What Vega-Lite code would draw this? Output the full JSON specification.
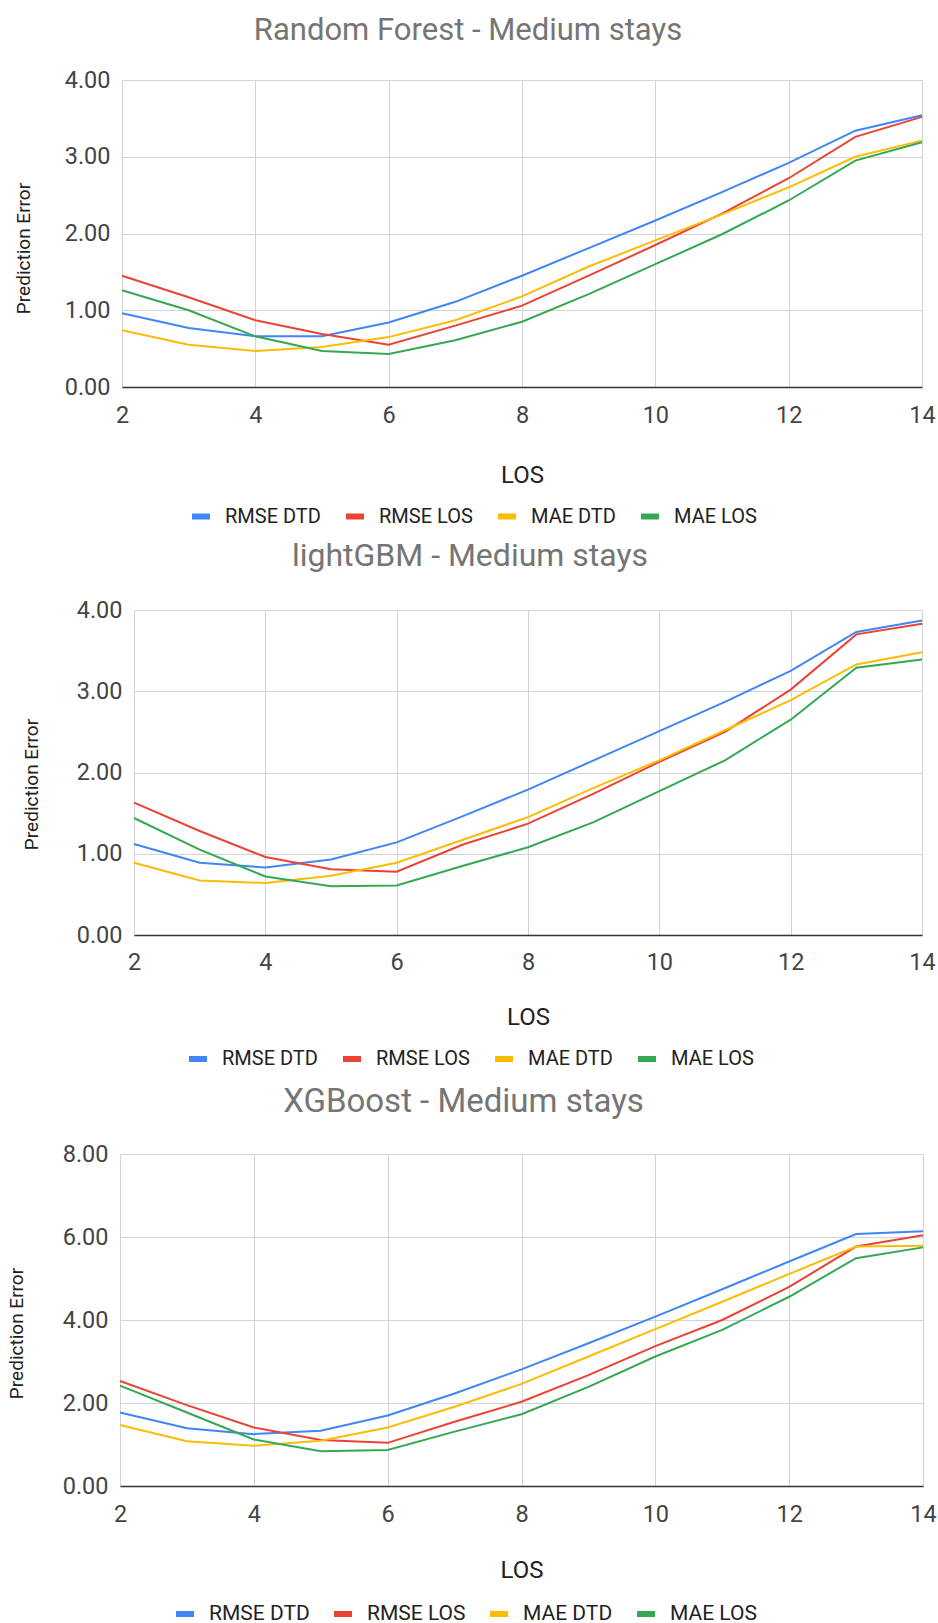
{
  "$schema": "https://vega.github.io/schema/vega-lite/v6.json",
  "background": "white",
  "padding": {"left": 7, "top": 15, "right": 0, "bottom": 0},
  "columns": 1,
  "align": "none",
  "bounds": "full",
  "spacing": 11,
  "resolve": {"scale": {"color": "independent"}, "legend": {"color": "independent"}},
  "config": {
    "view": {"stroke": null},
    "font": "Roboto",
    "title": {"font": "Roboto", "fontSize": 31, "fontWeight": "normal", "color": "#757575", "anchor": "middle"},
    "axis": {
      "labelFont": "Roboto", "labelFontSize": 23.5, "labelColor": "#444444",
      "titleFont": "Roboto", "titleFontWeight": "normal", "titleColor": "#222222",
      "ticks": false, "gridColor": "#d3d3d3", "gridWidth": 1
    },
    "legend": {
      "labelFont": "Roboto", "labelFontSize": 20, "labelColor": "#222222",
      "symbolType": "stroke", "symbolStrokeWidth": 6, "symbolSize": 324,
      "labelOffset": 12, "columnPadding": 13, "padding": 0, "direction": "horizontal", "orient": "none"
    }
  },
  "data": {"values": [
    {"model": "Random Forest", "metric": "RMSE DTD", "los": 2, "value": 0.96},
    {"model": "Random Forest", "metric": "RMSE DTD", "los": 3, "value": 0.77},
    {"model": "Random Forest", "metric": "RMSE DTD", "los": 4, "value": 0.66},
    {"model": "Random Forest", "metric": "RMSE DTD", "los": 5, "value": 0.66},
    {"model": "Random Forest", "metric": "RMSE DTD", "los": 6, "value": 0.84},
    {"model": "Random Forest", "metric": "RMSE DTD", "los": 7, "value": 1.11},
    {"model": "Random Forest", "metric": "RMSE DTD", "los": 8, "value": 1.45},
    {"model": "Random Forest", "metric": "RMSE DTD", "los": 9, "value": 1.81},
    {"model": "Random Forest", "metric": "RMSE DTD", "los": 10, "value": 2.17},
    {"model": "Random Forest", "metric": "RMSE DTD", "los": 11, "value": 2.54},
    {"model": "Random Forest", "metric": "RMSE DTD", "los": 12, "value": 2.92},
    {"model": "Random Forest", "metric": "RMSE DTD", "los": 13, "value": 3.34},
    {"model": "Random Forest", "metric": "RMSE DTD", "los": 14, "value": 3.54},
    {"model": "Random Forest", "metric": "RMSE LOS", "los": 2, "value": 1.45},
    {"model": "Random Forest", "metric": "RMSE LOS", "los": 3, "value": 1.17},
    {"model": "Random Forest", "metric": "RMSE LOS", "los": 4, "value": 0.87},
    {"model": "Random Forest", "metric": "RMSE LOS", "los": 5, "value": 0.69},
    {"model": "Random Forest", "metric": "RMSE LOS", "los": 6, "value": 0.55},
    {"model": "Random Forest", "metric": "RMSE LOS", "los": 7, "value": 0.80},
    {"model": "Random Forest", "metric": "RMSE LOS", "los": 8, "value": 1.06},
    {"model": "Random Forest", "metric": "RMSE LOS", "los": 9, "value": 1.45},
    {"model": "Random Forest", "metric": "RMSE LOS", "los": 10, "value": 1.85},
    {"model": "Random Forest", "metric": "RMSE LOS", "los": 11, "value": 2.26},
    {"model": "Random Forest", "metric": "RMSE LOS", "los": 12, "value": 2.72},
    {"model": "Random Forest", "metric": "RMSE LOS", "los": 13, "value": 3.26},
    {"model": "Random Forest", "metric": "RMSE LOS", "los": 14, "value": 3.52},
    {"model": "Random Forest", "metric": "MAE DTD", "los": 2, "value": 0.74},
    {"model": "Random Forest", "metric": "MAE DTD", "los": 3, "value": 0.55},
    {"model": "Random Forest", "metric": "MAE DTD", "los": 4, "value": 0.47},
    {"model": "Random Forest", "metric": "MAE DTD", "los": 5, "value": 0.52},
    {"model": "Random Forest", "metric": "MAE DTD", "los": 6, "value": 0.65},
    {"model": "Random Forest", "metric": "MAE DTD", "los": 7, "value": 0.87},
    {"model": "Random Forest", "metric": "MAE DTD", "los": 8, "value": 1.18},
    {"model": "Random Forest", "metric": "MAE DTD", "los": 9, "value": 1.57},
    {"model": "Random Forest", "metric": "MAE DTD", "los": 10, "value": 1.91},
    {"model": "Random Forest", "metric": "MAE DTD", "los": 11, "value": 2.25},
    {"model": "Random Forest", "metric": "MAE DTD", "los": 12, "value": 2.60},
    {"model": "Random Forest", "metric": "MAE DTD", "los": 13, "value": 3.00},
    {"model": "Random Forest", "metric": "MAE DTD", "los": 14, "value": 3.21},
    {"model": "Random Forest", "metric": "MAE LOS", "los": 2, "value": 1.26},
    {"model": "Random Forest", "metric": "MAE LOS", "los": 3, "value": 1.00},
    {"model": "Random Forest", "metric": "MAE LOS", "los": 4, "value": 0.66},
    {"model": "Random Forest", "metric": "MAE LOS", "los": 5, "value": 0.47},
    {"model": "Random Forest", "metric": "MAE LOS", "los": 6, "value": 0.43},
    {"model": "Random Forest", "metric": "MAE LOS", "los": 7, "value": 0.61},
    {"model": "Random Forest", "metric": "MAE LOS", "los": 8, "value": 0.85},
    {"model": "Random Forest", "metric": "MAE LOS", "los": 9, "value": 1.21},
    {"model": "Random Forest", "metric": "MAE LOS", "los": 10, "value": 1.60},
    {"model": "Random Forest", "metric": "MAE LOS", "los": 11, "value": 1.99},
    {"model": "Random Forest", "metric": "MAE LOS", "los": 12, "value": 2.43},
    {"model": "Random Forest", "metric": "MAE LOS", "los": 13, "value": 2.95},
    {"model": "Random Forest", "metric": "MAE LOS", "los": 14, "value": 3.19},

    {"model": "lightGBM", "metric": "RMSE DTD", "los": 2, "value": 1.12},
    {"model": "lightGBM", "metric": "RMSE DTD", "los": 3, "value": 0.89},
    {"model": "lightGBM", "metric": "RMSE DTD", "los": 4, "value": 0.83},
    {"model": "lightGBM", "metric": "RMSE DTD", "los": 5, "value": 0.93},
    {"model": "lightGBM", "metric": "RMSE DTD", "los": 6, "value": 1.14},
    {"model": "lightGBM", "metric": "RMSE DTD", "los": 7, "value": 1.46},
    {"model": "lightGBM", "metric": "RMSE DTD", "los": 8, "value": 1.79},
    {"model": "lightGBM", "metric": "RMSE DTD", "los": 9, "value": 2.15},
    {"model": "lightGBM", "metric": "RMSE DTD", "los": 10, "value": 2.51},
    {"model": "lightGBM", "metric": "RMSE DTD", "los": 11, "value": 2.87},
    {"model": "lightGBM", "metric": "RMSE DTD", "los": 12, "value": 3.25},
    {"model": "lightGBM", "metric": "RMSE DTD", "los": 13, "value": 3.73},
    {"model": "lightGBM", "metric": "RMSE DTD", "los": 14, "value": 3.87},
    {"model": "lightGBM", "metric": "RMSE LOS", "los": 2, "value": 1.63},
    {"model": "lightGBM", "metric": "RMSE LOS", "los": 3, "value": 1.28},
    {"model": "lightGBM", "metric": "RMSE LOS", "los": 4, "value": 0.96},
    {"model": "lightGBM", "metric": "RMSE LOS", "los": 5, "value": 0.81},
    {"model": "lightGBM", "metric": "RMSE LOS", "los": 6, "value": 0.78},
    {"model": "lightGBM", "metric": "RMSE LOS", "los": 7, "value": 1.11},
    {"model": "lightGBM", "metric": "RMSE LOS", "los": 8, "value": 1.37},
    {"model": "lightGBM", "metric": "RMSE LOS", "los": 9, "value": 1.74},
    {"model": "lightGBM", "metric": "RMSE LOS", "los": 10, "value": 2.13},
    {"model": "lightGBM", "metric": "RMSE LOS", "los": 11, "value": 2.50},
    {"model": "lightGBM", "metric": "RMSE LOS", "los": 12, "value": 3.02},
    {"model": "lightGBM", "metric": "RMSE LOS", "los": 13, "value": 3.70},
    {"model": "lightGBM", "metric": "RMSE LOS", "los": 14, "value": 3.83},
    {"model": "lightGBM", "metric": "MAE DTD", "los": 2, "value": 0.89},
    {"model": "lightGBM", "metric": "MAE DTD", "los": 3, "value": 0.67},
    {"model": "lightGBM", "metric": "MAE DTD", "los": 4, "value": 0.64},
    {"model": "lightGBM", "metric": "MAE DTD", "los": 5, "value": 0.73},
    {"model": "lightGBM", "metric": "MAE DTD", "los": 6, "value": 0.89},
    {"model": "lightGBM", "metric": "MAE DTD", "los": 7, "value": 1.17},
    {"model": "lightGBM", "metric": "MAE DTD", "los": 8, "value": 1.45},
    {"model": "lightGBM", "metric": "MAE DTD", "los": 9, "value": 1.81},
    {"model": "lightGBM", "metric": "MAE DTD", "los": 10, "value": 2.15},
    {"model": "lightGBM", "metric": "MAE DTD", "los": 11, "value": 2.52},
    {"model": "lightGBM", "metric": "MAE DTD", "los": 12, "value": 2.89},
    {"model": "lightGBM", "metric": "MAE DTD", "los": 13, "value": 3.33},
    {"model": "lightGBM", "metric": "MAE DTD", "los": 14, "value": 3.48},
    {"model": "lightGBM", "metric": "MAE LOS", "los": 2, "value": 1.44},
    {"model": "lightGBM", "metric": "MAE LOS", "los": 3, "value": 1.05},
    {"model": "lightGBM", "metric": "MAE LOS", "los": 4, "value": 0.72},
    {"model": "lightGBM", "metric": "MAE LOS", "los": 5, "value": 0.60},
    {"model": "lightGBM", "metric": "MAE LOS", "los": 6, "value": 0.61},
    {"model": "lightGBM", "metric": "MAE LOS", "los": 7, "value": 0.85},
    {"model": "lightGBM", "metric": "MAE LOS", "los": 8, "value": 1.08},
    {"model": "lightGBM", "metric": "MAE LOS", "los": 9, "value": 1.39},
    {"model": "lightGBM", "metric": "MAE LOS", "los": 10, "value": 1.77},
    {"model": "lightGBM", "metric": "MAE LOS", "los": 11, "value": 2.15},
    {"model": "lightGBM", "metric": "MAE LOS", "los": 12, "value": 2.65},
    {"model": "lightGBM", "metric": "MAE LOS", "los": 13, "value": 3.29},
    {"model": "lightGBM", "metric": "MAE LOS", "los": 14, "value": 3.39},

    {"model": "XGBoost", "metric": "RMSE DTD", "los": 2, "value": 1.77},
    {"model": "XGBoost", "metric": "RMSE DTD", "los": 3, "value": 1.39},
    {"model": "XGBoost", "metric": "RMSE DTD", "los": 4, "value": 1.25},
    {"model": "XGBoost", "metric": "RMSE DTD", "los": 5, "value": 1.33},
    {"model": "XGBoost", "metric": "RMSE DTD", "los": 6, "value": 1.70},
    {"model": "XGBoost", "metric": "RMSE DTD", "los": 7, "value": 2.23},
    {"model": "XGBoost", "metric": "RMSE DTD", "los": 8, "value": 2.81},
    {"model": "XGBoost", "metric": "RMSE DTD", "los": 9, "value": 3.44},
    {"model": "XGBoost", "metric": "RMSE DTD", "los": 10, "value": 4.08},
    {"model": "XGBoost", "metric": "RMSE DTD", "los": 11, "value": 4.74},
    {"model": "XGBoost", "metric": "RMSE DTD", "los": 12, "value": 5.41},
    {"model": "XGBoost", "metric": "RMSE DTD", "los": 13, "value": 6.07},
    {"model": "XGBoost", "metric": "RMSE DTD", "los": 14, "value": 6.14},
    {"model": "XGBoost", "metric": "RMSE LOS", "los": 2, "value": 2.53},
    {"model": "XGBoost", "metric": "RMSE LOS", "los": 3, "value": 1.95},
    {"model": "XGBoost", "metric": "RMSE LOS", "los": 4, "value": 1.41},
    {"model": "XGBoost", "metric": "RMSE LOS", "los": 5, "value": 1.11},
    {"model": "XGBoost", "metric": "RMSE LOS", "los": 6, "value": 1.04},
    {"model": "XGBoost", "metric": "RMSE LOS", "los": 7, "value": 1.55},
    {"model": "XGBoost", "metric": "RMSE LOS", "los": 8, "value": 2.03},
    {"model": "XGBoost", "metric": "RMSE LOS", "los": 9, "value": 2.67},
    {"model": "XGBoost", "metric": "RMSE LOS", "los": 10, "value": 3.37},
    {"model": "XGBoost", "metric": "RMSE LOS", "los": 11, "value": 4.00},
    {"model": "XGBoost", "metric": "RMSE LOS", "los": 12, "value": 4.80},
    {"model": "XGBoost", "metric": "RMSE LOS", "los": 13, "value": 5.77},
    {"model": "XGBoost", "metric": "RMSE LOS", "los": 14, "value": 6.04},
    {"model": "XGBoost", "metric": "MAE DTD", "los": 2, "value": 1.47},
    {"model": "XGBoost", "metric": "MAE DTD", "los": 3, "value": 1.08},
    {"model": "XGBoost", "metric": "MAE DTD", "los": 4, "value": 0.97},
    {"model": "XGBoost", "metric": "MAE DTD", "los": 5, "value": 1.09},
    {"model": "XGBoost", "metric": "MAE DTD", "los": 6, "value": 1.41},
    {"model": "XGBoost", "metric": "MAE DTD", "los": 7, "value": 1.91},
    {"model": "XGBoost", "metric": "MAE DTD", "los": 8, "value": 2.46},
    {"model": "XGBoost", "metric": "MAE DTD", "los": 9, "value": 3.12},
    {"model": "XGBoost", "metric": "MAE DTD", "los": 10, "value": 3.78},
    {"model": "XGBoost", "metric": "MAE DTD", "los": 11, "value": 4.44},
    {"model": "XGBoost", "metric": "MAE DTD", "los": 12, "value": 5.11},
    {"model": "XGBoost", "metric": "MAE DTD", "los": 13, "value": 5.77},
    {"model": "XGBoost", "metric": "MAE DTD", "los": 14, "value": 5.79},
    {"model": "XGBoost", "metric": "MAE LOS", "los": 2, "value": 2.42},
    {"model": "XGBoost", "metric": "MAE LOS", "los": 3, "value": 1.77},
    {"model": "XGBoost", "metric": "MAE LOS", "los": 4, "value": 1.12},
    {"model": "XGBoost", "metric": "MAE LOS", "los": 5, "value": 0.84},
    {"model": "XGBoost", "metric": "MAE LOS", "los": 6, "value": 0.87},
    {"model": "XGBoost", "metric": "MAE LOS", "los": 7, "value": 1.31},
    {"model": "XGBoost", "metric": "MAE LOS", "los": 8, "value": 1.73},
    {"model": "XGBoost", "metric": "MAE LOS", "los": 9, "value": 2.39},
    {"model": "XGBoost", "metric": "MAE LOS", "los": 10, "value": 3.12},
    {"model": "XGBoost", "metric": "MAE LOS", "los": 11, "value": 3.76},
    {"model": "XGBoost", "metric": "MAE LOS", "los": 12, "value": 4.56},
    {"model": "XGBoost", "metric": "MAE LOS", "los": 13, "value": 5.49},
    {"model": "XGBoost", "metric": "MAE LOS", "los": 14, "value": 5.75}
  ]},
  "concat": [
    {
      "title": {"text": "Random Forest - Medium stays", "offset": 21, "dx": -53},
      "width": 802, "height": 307,
      "transform": [{"filter": "datum.model === 'Random Forest'"}],
      "mark": {"type": "line", "strokeWidth": 2},
      "encoding": {
        "x": {"field": "los", "type": "quantitative", "scale": {"domain": [2, 14], "range": [2, 802], "nice": false, "zero": false},
              "axis": {"title": "LOS", "titleFontSize": 24, "titlePadding": 36.5, "labelPadding": 16, "labelFlush": false,
                       "values": [2, 4, 6, 8, 10, 12, 14], "domainColor": "#333333", "domainWidth": 1.5}},
        "y": {"field": "value", "type": "quantitative", "scale": {"domain": [0, 4], "nice": false},
              "axis": {"title": "Prediction Error", "titleFontSize": 19, "titlePadding": 31, "titleY": 168, "labelPadding": 12, "offset": -2,
                       "values": [0, 1, 2, 3, 4], "format": ".2f", "domain": false}},
        "color": {"field": "metric", "type": "nominal",
                  "scale": {"domain": ["RMSE DTD", "RMSE LOS", "MAE DTD", "MAE LOS"], "range": ["#4285F4", "#EA4335", "#FBBC04", "#34A853"]},
                  "legend": {"title": null, "legendX": 69, "legendY": 424.5}}
      }
    },
    {
      "title": {"text": "lightGBM - Medium stays", "offset": 25, "dx": -51, "fontSize": 32},
      "width": 802, "height": 325,
      "transform": [{"filter": "datum.model === 'lightGBM'"}],
      "mark": {"type": "line", "strokeWidth": 2},
      "encoding": {
        "x": {"field": "los", "type": "quantitative", "scale": {"domain": [2, 14], "range": [14, 802], "nice": false, "zero": false},
              "axis": {"title": "LOS", "titleFontSize": 24, "titlePadding": 32, "labelPadding": 15, "labelFlush": false,
                       "values": [2, 4, 6, 8, 10, 12, 14], "domainColor": "#333333", "domainWidth": 1.5}},
        "y": {"field": "value", "type": "quantitative", "scale": {"domain": [0, 4], "nice": false},
              "axis": {"title": "Prediction Error", "titleFontSize": 19, "titlePadding": 35, "titleY": 174, "labelPadding": 12, "offset": -14,
                       "values": [0, 1, 2, 3, 4], "format": ".2f", "domain": false}},
        "color": {"field": "metric", "type": "nominal",
                  "scale": {"domain": ["RMSE DTD", "RMSE LOS", "MAE DTD", "MAE LOS"], "range": ["#4285F4", "#EA4335", "#FBBC04", "#34A853"]},
                  "legend": {"title": null, "legendX": 62.5, "legendY": 433.5, "padding": 3.5}}
      }
    },
    {
      "title": {"text": "XGBoost - Medium stays", "offset": 23, "dx": -58, "fontSize": 33},
      "width": 803, "height": 332,
      "transform": [{"filter": "datum.model === 'XGBoost'"}],
      "mark": {"type": "line", "strokeWidth": 2},
      "encoding": {
        "x": {"field": "los", "type": "quantitative", "scale": {"domain": [2, 14], "nice": false, "zero": false},
              "axis": {"title": "LOS", "titleFontSize": 24, "titlePadding": 33, "labelPadding": 16, "labelFlush": false,
                       "values": [2, 4, 6, 8, 10, 12, 14], "domainColor": "#333333", "domainWidth": 1.5}},
        "y": {"field": "value", "type": "quantitative", "scale": {"domain": [0, 8], "nice": false},
              "axis": {"title": "Prediction Error", "titleFontSize": 19, "titlePadding": 36, "titleY": 179, "labelPadding": 12,
                       "values": [0, 2, 4, 6, 8], "format": ".2f", "domain": false}},
        "color": {"field": "metric", "type": "nominal",
                  "scale": {"domain": ["RMSE DTD", "RMSE LOS", "MAE DTD", "MAE LOS"], "range": ["#4285F4", "#EA4335", "#FBBC04", "#34A853"]},
                  "legend": {"title": null, "legendX": 53, "legendY": 448, "labelFontSize": 21, "columnPadding": 12}}
      }
    }
  ]
}
